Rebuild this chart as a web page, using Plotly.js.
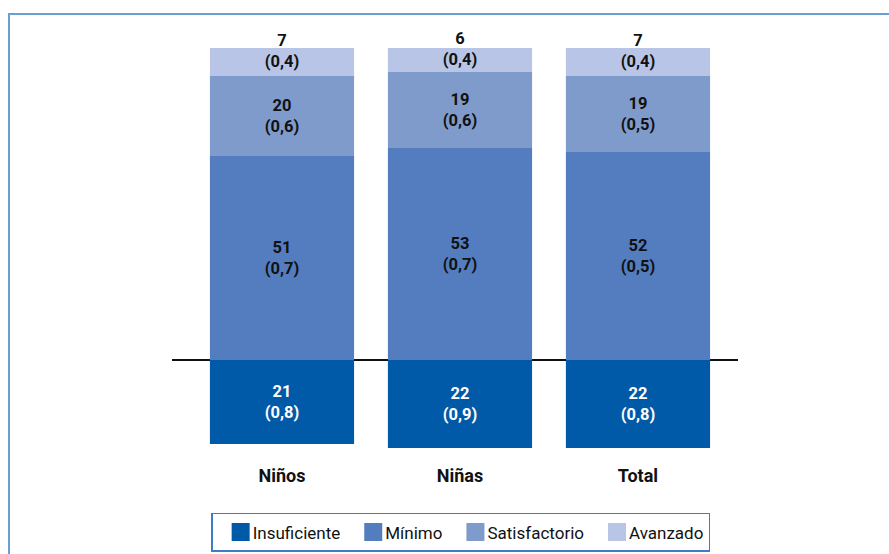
<!DOCTYPE html>
<html>
<head>
<meta charset="utf-8">
<script src="https://cdn.plot.ly/plotly-3.0.1.min.js"></script>
<style>
  html, body { margin: 0; padding: 0; background: #fff; }
  #wrap { position: relative; width: 889px; height: 554px; overflow: hidden; }
  #chart { position: absolute; left: 0; top: 0; width: 889px; height: 554px; }
  #frame { position: absolute; left: 8px; top: 13px; width: 900px; height: 560px;
           border-left: 2px solid #6a9fd4; border-top: 2px solid #6a9fd4; pointer-events: none; }
</style>
</head>
<body>
<div id="wrap">
  <div id="chart"></div>
  <div id="frame"></div>
</div>
<script>
const categories = ["Niños", "Niñas", "Total"];
const insuficiente = [21, 22, 22];
const insuficienteSE = ["0,8", "0,9", "0,8"];
const minimo = [51, 53, 52];
const minimoSE = ["0,7", "0,7", "0,5"];
const satisfactorio = [20, 19, 19];
const satisfactorioSE = ["0,6", "0,6", "0,5"];
const avanzado = [7, 6, 7];
const avanzadoSE = ["0,4", "0,4", "0,4"];

const FONT = "Roboto, 'Liberation Sans', sans-serif";

function labels(vals, se, extra) {
  return vals.map((v, i) => "<b>" + v + "<br>(" + se[i] + ")</b>" + (extra || ""));
}

function mk(name, vals, se, color, textColor, sign, extra) {
  return {
    type: "bar",
    name: name,
    x: categories,
    y: vals.map(v => sign * v),
    text: labels(vals, se, extra),
    textposition: "inside",
    insidetextanchor: "middle",
    constraintext: "none",
    cliponaxis: false,
    textangle: 0,
    textfont: { family: FONT, size: 16.5, color: textColor },
    marker: { color: color, line: { width: 0 } },
    hoverinfo: "skip"
  };
}

const data = [
  mk("Insuficiente", insuficiente, insuficienteSE, "#005aa8", "#ffffff", -1),
  mk("Mínimo", minimo, minimoSE, "#537dbf", "#111111", 1),
  mk("Satisfactorio", satisfactorio, satisfactorioSE, "#7f9bcc", "#111111", 1),
  mk("Avanzado", avanzado, avanzadoSE, "#b8c5e6", "#111111", 1, "<br> ")
];

const layout = {
  width: 889,
  height: 554,
  margin: { l: 172, r: 151, t: 40, b: 94, autoexpand: false },
  paper_bgcolor: "rgba(0,0,0,0)",
  plot_bgcolor: "rgba(0,0,0,0)",
  barmode: "relative",
  bargap: 0.19,
  showlegend: true,
  xaxis: {
    type: "category",
    range: [-0.618, 2.562],
    showgrid: false,
    zeroline: false,
    showline: false,
    ticks: "",
    ticklabelstandoff: 3,
    tickfont: { family: FONT, size: 18, color: "#111" },
    tickprefix: "<b>",
    ticksuffix: "</b>",
    fixedrange: true
  },
  yaxis: {
    range: [-25, 80],
    showgrid: false,
    showticklabels: false,
    ticks: "",
    showline: false,
    zeroline: true,
    zerolinecolor: "#111",
    zerolinewidth: 2,
    fixedrange: true
  },
  legend: {
    orientation: "h",
    x: 0.51,
    xanchor: "center",
    y: -0.126,
    yanchor: "top",
    bordercolor: "#3d7cc9",
    borderwidth: 1.5,
    font: { family: FONT, size: 17, color: "#111" },
    traceorder: "normal",
    itemwidth: 30
  }
};

Plotly.newPlot("chart", data, layout, { displayModeBar: false, staticPlot: true }).then(function (gd) {
  // enlarge the legend swatches to the size used in the reference
  gd.querySelectorAll(".legend .legendpoints path").forEach(function (p) {
    p.setAttribute("d", "M9,9H-9V-9H9Z");
    p.parentNode.setAttribute("transform", "translate(8,0)");
  });
});
</script>
</body>
</html>
